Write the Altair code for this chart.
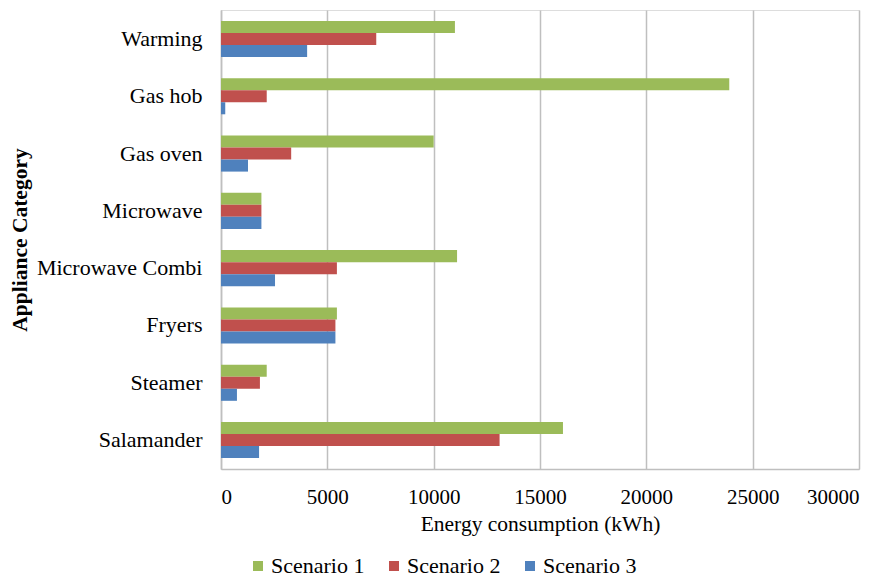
import altair as alt
import pandas as pd

categories = ["Warming", "Gas hob", "Gas oven", "Microwave", "Microwave Combi", "Fryers", "Steamer", "Salamander"]
series = ["Scenario 1", "Scenario 2", "Scenario 3"]
scenario1 = [11000, 23900, 10000, 1900, 11100, 5450, 2150, 16080]
scenario2 = [7300, 2150, 3300, 1900, 5450, 5380, 1830, 13100]
scenario3 = [4050, 200, 1270, 1900, 2540, 5380, 750, 1790]
colors = ["#9BBB59", "#C0504D", "#4F81BD"]

rows = []
for i, c in enumerate(categories):
    for s, vals in zip(series, [scenario1, scenario2, scenario3]):
        rows.append({"Category": c, "Scenario": s, "Value": vals[i]})
df = pd.DataFrame(rows)

FONT = "Times New Roman, Liberation Serif, serif"

chart = alt.Chart(df).mark_bar().encode(
    y=alt.Y("Category:N", sort=categories,
            scale=alt.Scale(paddingInner=0.37, paddingOuter=0.19),
            axis=alt.Axis(title="Appliance Category", titleFont=FONT, titleFontSize=21.5,
                          titleFontWeight="bold", titleColor="#000000",
                          titleX=-190, labelFont=FONT, labelFontSize=22,
                          labelColor="#000000", labelPadding=19, ticks=False, labelLimit=400,
                          domainColor="#bfbfbf", domainWidth=1.5, grid=False)),
    yOffset=alt.YOffset("Scenario:N", sort=series),
    x=alt.X("Value:Q", scale=alt.Scale(domain=[0, 30000], nice=False),
            axis=alt.Axis(title="Energy consumption (kWh)", values=[0, 5000, 10000, 15000, 20000, 25000, 30000],
                          format="d", titleFont=FONT, titleFontSize=21.5, titleFontWeight="normal",
                          titleColor="#000000", titlePadding=6,
                          labelFont=FONT, labelFontSize=21, labelColor="#000000",
                          labelPadding=17, ticks=False, domainColor="#bfbfbf", domainWidth=1.5,
                          grid=True, gridColor="#bfbfbf", gridWidth=1.5)),
    color=alt.Color("Scenario:N", sort=series,
                    scale=alt.Scale(domain=series, range=colors),
                    legend=alt.Legend(title=None, orient="none", direction="horizontal",
                                      legendX=26, legendY=545, symbolType="square",
                                      symbolSize=100, symbolStrokeWidth=0,
                                      labelFont=FONT, labelFontSize=22, labelColor="#000000",
                                      labelLimit=300, columnPadding=18, labelOffset=2)),
).properties(
    width=638, height=459,
    padding={"left": 213, "top": 2, "right": 23, "bottom": 112},
    autosize=alt.AutoSizeParams(type="none"),
).configure_view(strokeWidth=0).configure(background="#ffffff", font=FONT)

chart.save("out.html", embed_options={"renderer": "svg", "actions": False})
